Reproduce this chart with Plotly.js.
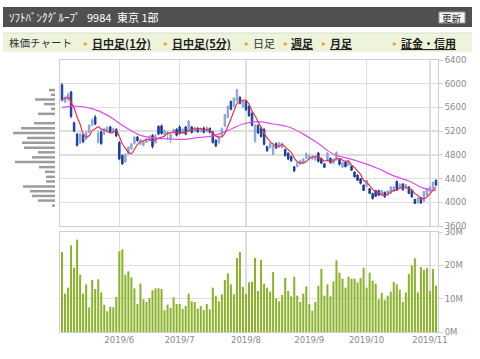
<!DOCTYPE html>
<html><head><meta charset="utf-8">
<script src="https://cdn.plot.ly/plotly-3.0.1.min.js"></script>
<style>html,body{margin:0;padding:0;background:#fff;}#chart{width:480px;height:359px;}</style>
</head><body><div id="chart"></div>
<script>
// trading days (2019)
const mayDays=[7,8,9,10,13,14,15,16,17,20,21,22,23,24,27,28,29,30,31];
const junDays=[3,4,5,6,7,10,11,12,13,14,17,18,19,20,21,24,25,26,27,28];
const julDays=[1,2,3,4,5,8,9,10,11,12,16,17,18,19,22,23,24,25,26,29,30,31];
const augDays=[1,2,5,6,7,8,9,13,14,15,16,19,20,21,22,23,26,27,28,29,30];
const sepDays=[2,3,4,5,6,9,10,11,12,13,17,18,19,20,24,25,26,27,30];
const octDays=[1,2,3,4,7,8,9,10,11,15,16,17,18,21,23,24,25,28,29,30,31];
const novDays=[1,5,6];

const openP=[5980,5690,5730,5860,5340,5150,5000,5140,5060,5180,
5300,5440,5010,5190,5150,5200,5270,5180,5230,5010,
4790,4680,4820,4900,4990,5100,4980,4960,5010,5040,
5130,5000,5280,5290,5140,5150,5060,5170,5230,5270,
5160,5270,5200,5270,5190,5250,5190,5250,5190,5250,
5190,5050,5000,5110,5280,5430,5700,5620,5710,5770,
5600,5710,5620,5500,5030,5300,5250,5230,4940,4920,
4810,4990,4930,4920,4890,4830,4770,4600,4600,4640,
4660,4740,4720,4730,4720,4830,4740,4650,4700,4740,
4660,4720,4720,4590,4680,4620,4610,4510,4460,4400,
4290,4270,4230,4150,4200,4200,4120,4170,4120,4150,
4180,4350,4230,4310,4230,4260,4200,4050,3990,4080,
4020,4120,4180,4230,4370];
const highP=[6010,5800,5850,5880,5360,5170,5180,5160,5200,5320,
5420,5470,5200,5210,5260,5290,5290,5260,5250,5030,
4810,4830,4950,5000,5120,5120,5070,5040,5090,5130,
5150,5150,5300,5310,5230,5200,5170,5240,5250,5300,
5250,5290,5390,5290,5280,5270,5260,5280,5280,5260,
5200,5060,5130,5260,5490,5630,5720,5770,5910,5790,
5720,5730,5640,5520,5320,5310,5270,5250,4950,5010,
4980,5010,5020,5010,4900,4840,4790,4610,4690,4720,
4750,4840,4810,4800,4790,4850,4750,4660,4850,4760,
4740,4860,4730,4690,4690,4720,4620,4520,4470,4410,
4300,4380,4240,4160,4210,4210,4210,4180,4200,4270,
4270,4370,4320,4320,4310,4270,4210,4060,4090,4090,
4200,4240,4270,4350,4385];
const lowP=[5700,5670,5700,5420,5180,4940,4980,5000,5050,5160,
5280,5300,4990,4970,5130,5190,5170,5160,5100,4710,
4630,4670,4800,4890,4970,5020,4960,4940,5000,5030,
4910,4990,5130,5140,5100,5050,5000,5160,5110,5140,
5150,5130,5190,5160,5180,5170,5180,5160,5180,5160,
4990,4930,4990,5100,5270,5420,5550,5610,5700,5650,
5590,5540,5440,5280,5000,5150,5090,4960,4850,4910,
4800,4900,4920,4910,4770,4710,4680,4510,4590,4630,
4650,4730,4700,4720,4700,4670,4650,4580,4690,4650,
4650,4700,4620,4580,4590,4610,4530,4420,4360,4300,
4190,4250,4140,4050,4090,4110,4110,4080,4110,4140,
4170,4190,4220,4200,4220,4140,4080,3970,3980,3970,
4000,4110,4170,4220,4280];
const closeP=[5730,5770,5820,5450,5200,4960,5150,5020,5180,5300,
5390,5320,5170,4990,5240,5260,5190,5240,5120,4730,
4650,4810,4930,4980,5100,5040,5050,5020,5070,5110,
4940,5130,5150,5160,5210,5180,5150,5230,5130,5160,
5230,5150,5370,5180,5260,5190,5240,5180,5260,5180,
5010,4950,5110,5250,5480,5620,5570,5760,5900,5670,
5700,5560,5460,5300,5300,5170,5110,4980,4870,4990,
4960,4920,5000,4990,4790,4730,4700,4530,4660,4700,
4730,4820,4790,4770,4760,4690,4660,4590,4830,4670,
4730,4840,4640,4670,4600,4700,4540,4430,4370,4320,
4200,4370,4150,4060,4100,4120,4200,4090,4190,4260,
4260,4210,4310,4210,4300,4150,4090,3980,4070,3990,
4180,4230,4260,4340,4290];
const volumeM=[24.0,11.5,13.3,26.0,19.3,27.7,17.2,11.5,14.3,7.4,
15.6,12.9,15.8,11.9,8.2,6.2,7.6,7.4,10.5,24.2,
24.8,17.2,18.2,16.4,13.1,8.4,14.5,9.8,9.0,10.1,
12.5,13.1,13.1,12.9,6.5,8.2,7.2,10.4,8.4,8.4,
6.9,7.8,11.5,9.2,9.0,7.0,7.8,6.6,8.4,6.8,
13.3,10.9,9.2,11.3,15.6,17.6,14.3,11.3,22.2,24.0,
13.5,11.3,14.9,15.1,22.2,12.3,21.6,14.5,13.3,12.1,
18.0,10.1,9.2,11.1,16.2,12.3,10.7,16.6,10.9,9.0,
11.5,13.7,8.4,6.4,9.0,13.9,18.9,10.9,14.3,10.7,
15.2,21.5,17.8,16.0,13.3,16.6,16.0,16.0,14.9,16.2,
19.3,13.3,17.8,15.4,14.5,9.8,11.7,9.6,10.9,12.1,
15.0,14.3,12.7,9.0,11.9,17.4,20.0,22.1,11.9,19.5,
18.7,19.2,12.3,18.9,13.9];
// 25-day moving average, read at sampled trading days
const ma25Index=[0,5,10,15,20,25,30,35,40,45,50,55,60,65,70,75,80,85,90,95,100,105,110,115,120,124];
const ma25=[5600,5620,5580,5470,5300,5150,5085,5070,5060,5090,5120,5210,5320,5360,5320,5275,5150,4990,4810,4740,4660,4565,4445,4360,4235,4200];
// volume by price (left histogram)
const vpPrice=[5893,5814,5734,5656,5576,5492,5412,5334,5249,5170,5085,5005,4920,4843,4758,4678,4593,4514,4429,4351,4266,4187,4107,4029,3944];
const vpVolume=[6,4,20,11,4,17,0,21,34,42,28,33,31,17,23,40,16,10,9,9,32,25,23,17,3];

const tickDates=['2019-06-03','2019-07-01','2019-08-01','2019-09-02','2019-10-01','2019-11-01'];
const tickText=['2019/6','2019/7','2019/8','2019/9','2019/10','2019/11'];
const priceTicks=[3600,4000,4400,4800,5200,5600,6000,6400];
const volTicks=[0,10,20,30];
const volTickText=['0M','10M','20M','30M'];

function pad(n){return (n<10?'0':'')+n;}
const dates=[];
[[5,mayDays],[6,junDays],[7,julDays],[8,augDays],[9,sepDays],[10,octDays],[11,novDays]]
  .forEach(([m,ds])=>ds.forEach(d=>dates.push('2019-'+pad(m)+'-'+pad(d))));
const ma5=closeP.map((c,i)=>{const s=closeP.slice(Math.max(0,i-4),i+1);return s.reduce((a,b)=>a+b,0)/s.length;});

const W=480,H=359;
const px=x=>x/W, py=y=>1-y/H;
const DARK='#1b3c98', LIGHT='#8aa6d6';
const GRID='#dedede', LINE='#cfcfcf', TICK='#8a8a8a';
const TF={family:'DejaVu Sans, Verdana, sans-serif',size:8.5,color:TICK};
const JP='Noto Sans CJK JP, sans-serif';
const xr=[-0.67,124.67];

const traces=[
 {type:'candlestick',x:dates,open:openP,high:highP,low:lowP,close:closeP,xaxis:'x',yaxis:'y',
  increasing:{line:{color:LIGHT,width:1},fillcolor:LIGHT},
  decreasing:{line:{color:DARK,width:1},fillcolor:DARK},whiskerwidth:0,hoverinfo:'skip'},
 {type:'scatter',mode:'lines',x:ma25Index.map(i=>dates[i]),y:ma25,xaxis:'x',yaxis:'y',
  line:{color:'#d94ff0',width:1.2,shape:'spline'},hoverinfo:'skip'},
 {type:'scatter',mode:'lines',x:dates,y:ma5,xaxis:'x',yaxis:'y',
  line:{color:'#e8344e',width:1.2,shape:'spline'},hoverinfo:'skip'},
 {type:'bar',x:dates,y:volumeM,xaxis:'x2',yaxis:'y2',marker:{color:'#8ab32b',line:{width:0}},hoverinfo:'skip'},
 {type:'bar',orientation:'h',y:vpPrice,x:vpVolume,xaxis:'x3',yaxis:'y3',width:42,
  marker:{color:'#9c9c9c',line:{width:0}},hoverinfo:'skip'}
];

const shapes=[
 {type:'rect',xref:'paper',yref:'paper',x0:px(3),x1:px(472),y0:py(27),y1:py(7),fillcolor:'#505050',line:{width:0},layer:'below'},
 {type:'rect',xref:'paper',yref:'paper',x0:px(439),x1:px(465),y0:py(23),y1:py(12),fillcolor:'#f6f6f6',line:{color:'#9a9a9a',width:1}},
 {type:'rect',xref:'paper',yref:'paper',x0:px(3),x1:px(472),y0:py(52),y1:py(33),fillcolor:'#eef4dc',line:{width:0},layer:'below'},
 {type:'line',xref:'paper',yref:'paper',x0:px(3),x1:px(472),y0:py(33),y1:py(33),line:{color:'#d6dccb',width:1}}
];
function ann(x,y,text,size,color,extra){return Object.assign({xref:'paper',yref:'paper',x:px(x),y:py(y),text:text,showarrow:false,
  xanchor:'left',yanchor:'middle',font:{family:JP,size:size,color:color}},extra||{});}
const ORANGE='#f0a028';
const annotations=[
 ann(7,17,'ｿﾌﾄﾊﾞﾝｸｸﾞﾙｰﾌﾟ',11,'#ffffff'),
 ann(85,17,'9984',11,'#ffffff'),
 ann(115,17,'東京 1部',11,'#ffffff'),
 ann(452,17.5,'更新',9.5,'#222222',{xanchor:'center'}),
 ann(7,43,'株価チャート',10.5,'#333333'),
 ann(82,43,'▸',8,ORANGE),ann(90,43,'<b><u>日中足(1分)</u></b>',11,'#222222'),
 ann(162,43,'▸',8,ORANGE),ann(170,43,'<b><u>日中足(5分)</u></b>',11,'#222222'),
 ann(243,43,'▸',8,ORANGE),ann(251,43,'日足',11,'#333333'),
 ann(282,43,'▸',8,ORANGE),ann(289,43,'<b><u>週足</u></b>',11,'#222222'),
 ann(320,43,'▸',8,ORANGE),ann(328,43,'<b><u>月足</u></b>',11,'#222222'),
 ann(391,43,'▸',8,ORANGE),ann(399,43,'<b><u>証金・信用</u></b>',11,'#222222')
];

const layout={width:W,height:H,margin:{l:0,r:0,t:0,b:0},paper_bgcolor:'#fff',plot_bgcolor:'#fff',
 showlegend:false,hovermode:false,bargap:0.33,shapes:shapes,annotations:annotations,
 xaxis:{type:'category',domain:[px(60),px(438)],range:xr,anchor:'y',tickmode:'array',tickvals:tickDates,
   showticklabels:false,ticks:'',showgrid:true,gridcolor:GRID,gridwidth:1.5,showline:true,mirror:true,linecolor:LINE,
   rangeslider:{visible:false},fixedrange:true},
 yaxis:{domain:[py(226),py(60)],range:[3600,6400],anchor:'x',side:'right',tickmode:'array',tickvals:priceTicks,
   tickfont:TF,ticks:'outside',ticklen:4,tickcolor:'#d0d0d0',showgrid:true,gridcolor:GRID,gridwidth:1.5,
   showline:true,mirror:true,linecolor:LINE,zeroline:false,fixedrange:true},
 xaxis2:{type:'category',domain:[px(60),px(438)],range:xr,anchor:'y2',tickmode:'array',tickvals:tickDates,ticktext:tickText,
   tickfont:TF,ticks:'',showgrid:true,gridcolor:GRID,gridwidth:1.5,showline:true,mirror:true,linecolor:LINE,fixedrange:true},
 yaxis2:{domain:[py(332),py(232)],range:[0,30],anchor:'x2',side:'right',tickmode:'array',tickvals:volTicks,ticktext:volTickText,
   tickfont:TF,ticks:'outside',ticklen:4,tickcolor:'#d0d0d0',showgrid:true,gridcolor:GRID,gridwidth:1.5,
   showline:true,mirror:true,linecolor:LINE,zeroline:false,fixedrange:true},
 xaxis3:{domain:[px(10),px(55)],range:[45,0],anchor:'y3',visible:false,fixedrange:true},
 yaxis3:{domain:[py(226),py(60)],range:[3600,6400],anchor:'x3',visible:false,fixedrange:true}
};
Plotly.newPlot('chart',traces,layout,{staticPlot:true,displayModeBar:false});
</script></body></html>
